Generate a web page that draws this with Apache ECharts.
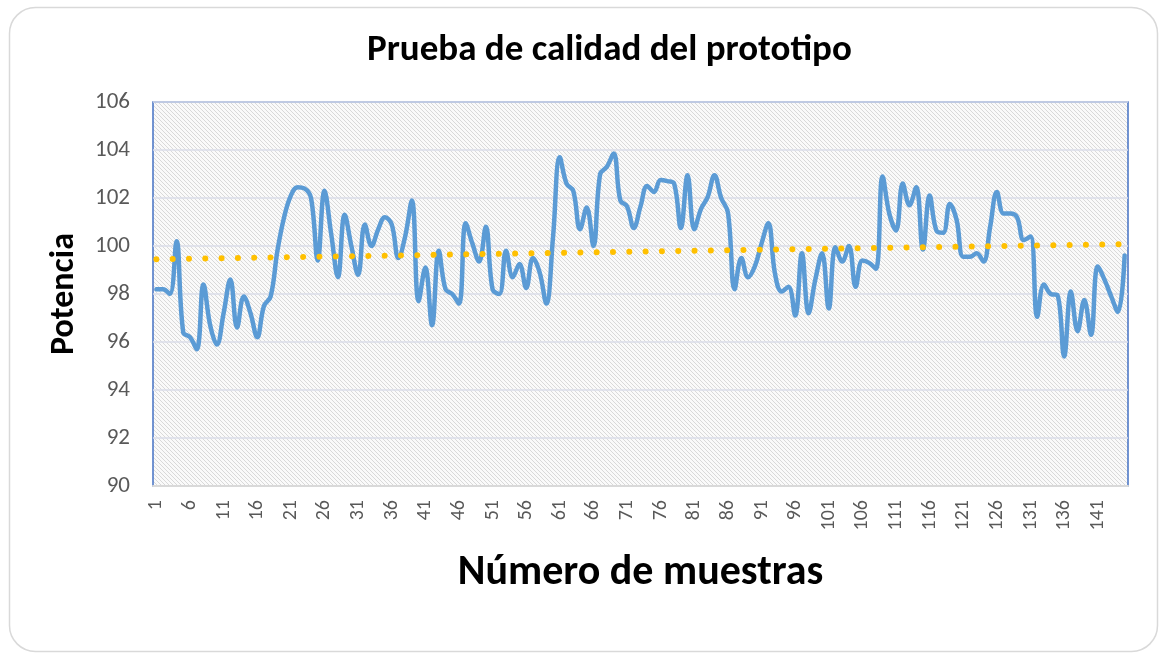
<!DOCTYPE html>
<html>
<head>
<meta charset="utf-8">
<script src="https://cdn.jsdelivr.net/npm/echarts@6/dist/echarts.min.js"></script>
<style>
  html, body { margin: 0; padding: 0; background: #ffffff; }
  #chart { width: 1161px; height: 654px; }
</style>
</head>
<body>
<div id="chart"></div>
<script>
// Power readings of the prototype, one per sample
const potencia = [
  98.2, 98.2, 98.0, 100.2, 96.4, 96.2, 95.7, 98.4, 96.7, 95.9,
  97.2, 98.6, 96.6, 97.9, 97.2, 96.2, 97.5, 97.9, 99.8, 101.2,
  102.1, 102.45, 102.4, 102.0, 99.4, 102.3, 100.5, 98.7, 101.3, 100.0,
  98.8, 100.9, 100.0, 100.7, 101.2, 100.9, 99.5, 100.4, 101.9, 97.7,
  99.1, 96.7, 99.8, 98.2, 98.0, 97.6, 100.95, 100.1, 99.35, 100.8,
  98.2, 98.0, 99.8, 98.7, 99.25, 98.25, 99.5, 98.9, 97.6, 100.4,
  103.7, 102.6, 102.3, 100.7, 101.6, 100.0, 103.0, 103.3, 103.85, 101.9,
  101.65, 100.75, 101.65, 102.5, 102.25, 102.75, 102.7, 102.6, 100.75, 102.95,
  100.7, 101.55, 102.05, 102.95, 102.0, 101.4, 98.2, 99.5, 98.7, 99.15,
  100.1, 100.95, 98.85, 98.1, 98.3, 97.1, 99.7, 97.2, 98.6, 99.7,
  97.4, 99.95, 99.35, 100.0, 98.3, 99.4, 99.3, 99.05, 102.9, 101.35,
  100.65, 102.6, 101.7, 102.45, 99.85, 102.1, 100.65, 100.55, 101.75, 101.1,
  99.55, 99.55, 99.7, 99.35, 100.8, 102.25, 101.35, 101.35, 101.2, 100.25,
  100.4, 97.05, 98.4, 98.0, 97.95, 95.4, 98.1, 96.45, 97.75, 96.3,
  99.15, 98.6, 97.9, 97.25, 99.6
];

// Sample numbers 1..N
const muestras = potencia.map((_, i) => String(i + 1));

// Linear trend: value at the first and at the last sample
const tendenciaInicio = 99.45;
const tendenciaFin = 100.08;

// Y axis range
const yMin = 90;
const yMax = 106;
const yStep = 2;

// Light hatched fill for the plot area
function hatchPattern() {
  const c = document.createElement('canvas');
  c.width = 4; c.height = 4;
  const g = c.getContext('2d');
  g.fillStyle = '#fafafa';
  g.fillRect(0, 0, 4, 4);
  g.strokeStyle = '#d9d9d9';
  g.lineWidth = 1;
  g.beginPath();
  g.moveTo(-1, -1); g.lineTo(5, 5);
  g.moveTo(-1, 3); g.lineTo(1, 5);
  g.moveTo(3, -1); g.lineTo(5, 1);
  g.stroke();
  return c;
}

const chart = echarts.init(document.getElementById('chart'), null, { renderer: 'canvas' });

const font = 'Carlito, Calibri, "Open Sans", "Noto Sans", sans-serif';

chart.setOption({
  animation: false,
  backgroundColor: '#ffffff',
  graphic: [{
    type: 'rect',
    left: 7, top: 5,
    shape: { width: 1148, height: 644, r: 26 },
    style: { fill: 'none', stroke: '#d9d9d9', lineWidth: 1.5 },
    silent: true,
    z: -10
  }],
  title: {
    text: 'Prueba de calidad del prototipo',
    left: 362,
    top: 27,
    textStyle: { fontFamily: font, fontWeight: 'bold', fontSize: 37, color: '#000000' }
  },
  grid: {
    left: 153, top: 102, right: 33, bottom: 168,
    show: true,
    backgroundColor: { image: hatchPattern(), repeat: 'repeat' },
    borderColor: '#4472c4',
    borderWidth: 1.5
  },
  xAxis: {
    type: 'category',
    data: muestras,
    boundaryGap: true,
    name: 'Número de muestras',
    nameLocation: 'middle',
    nameGap: 66,
    nameTextStyle: { fontFamily: font, fontWeight: 'bold', fontSize: 42, color: '#000000' },
    axisLine: { show: true, lineStyle: { color: '#d9d9d9', width: 2 } },
    axisTick: { show: false },
    axisLabel: {
      interval: 4,
      rotate: 90,
      margin: 14,
      fontFamily: font,
      fontSize: 20,
      color: '#595959'
    },
    splitLine: { show: false }
  },
  yAxis: {
    type: 'value',
    min: yMin,
    max: yMax,
    interval: yStep,
    name: 'Potencia',
    nameLocation: 'middle',
    nameGap: 72,
    nameRotate: 90,
    nameTextStyle: { fontFamily: font, fontWeight: 'bold', fontSize: 34, color: '#000000' },
    axisLine: { show: false },
    axisTick: { show: false },
    axisLabel: { margin: 23, fontFamily: font, fontSize: 23, color: '#595959' },
    splitLine: { show: true, lineStyle: { color: '#dadde8', width: 1.5 } }
  },
  series: [
    {
      name: 'Potencia',
      type: 'line',
      data: potencia,
      smooth: 0.4,
      symbol: 'none',
      lineStyle: { color: '#5b9bd5', width: 4.5, cap: 'round', join: 'round' },
      z: 2
    },
    {
      name: 'Tendencia',
      type: 'line',
      data: [[0, tendenciaInicio], [potencia.length - 1, tendenciaFin]],
      symbol: 'none',
      lineStyle: { color: '#ffc000', width: 6, type: [0.01, 16.3], cap: 'round' },
      z: 3
    }
  ]
});
</script>
</body>
</html>
